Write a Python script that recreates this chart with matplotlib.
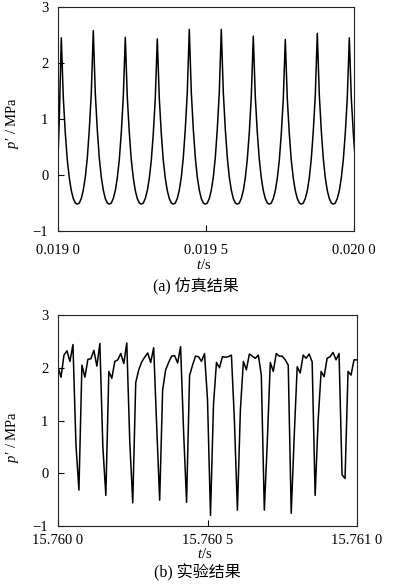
import numpy as np
import matplotlib
matplotlib.use("Agg")
import matplotlib.pyplot as plt

plt.rcParams['font.family'] = ['Liberation Serif', 'Noto Sans CJK SC']
plt.rcParams['mathtext.fontset'] = 'custom'
plt.rcParams['mathtext.rm'] = 'Liberation Serif'
plt.rcParams['mathtext.it'] = 'Liberation Serif:italic'
plt.rcParams['axes.unicode_minus'] = True

# ---------------- data: (a) simulation ----------------
T0_SIM = 0.0189976      # time of first sample (s)
DT_SIM = 6.757e-6       # sample step (s)
p_sim = [
    -0.10, 1.00, 2.45,
    1.38, 0.75, 0.27, -0.05, -0.28, -0.42, -0.50, -0.52,
    -0.50, -0.42, -0.27, -0.04, 0.30, 0.81, 1.46, 2.58,
    1.46, 0.81, 0.30, -0.04, -0.27, -0.42, -0.50, -0.52,
    -0.50, -0.42, -0.28, -0.05, 0.27, 0.76, 1.39, 2.46,
    1.39, 0.76, 0.27, -0.05, -0.28, -0.42, -0.50, -0.52,
    -0.50, -0.42, -0.28, -0.06, 0.26, 0.74, 1.37, 2.43,
    1.37, 0.74, 0.26, -0.06, -0.28, -0.42, -0.50, -0.52,
    -0.50, -0.42, -0.27, -0.04, 0.31, 0.82, 1.48, 2.60,
    1.48, 0.82, 0.31, -0.04, -0.27, -0.42, -0.50, -0.52,
    -0.50, -0.42, -0.27, -0.04, 0.31, 0.82, 1.48, 2.60,
    1.48, 0.82, 0.31, -0.04, -0.27, -0.42, -0.50, -0.52,
    -0.50, -0.42, -0.28, -0.05, 0.28, 0.76, 1.40, 2.48,
    1.40, 0.76, 0.28, -0.05, -0.28, -0.42, -0.50, -0.52,
    -0.50, -0.42, -0.28, -0.06, 0.26, 0.74, 1.36, 2.42,
    1.36, 0.74, 0.26, -0.06, -0.28, -0.42, -0.50, -0.52,
    -0.50, -0.42, -0.28, -0.05, 0.29, 0.79, 1.43, 2.53,
    1.43, 0.79, 0.29, -0.05, -0.28, -0.42, -0.50, -0.52,
    -0.50, -0.42, -0.28, -0.05, 0.27, 0.75, 1.38, 2.45,
    1.38, 0.75, 0.27,
]
sim_xticks = [0.0190, 0.0195, 0.0200]
sim_xticklabels = ['0.019 0', '0.019 5', '0.020 0']

# ---------------- data: (b) experiment ----------------
T0_EXP = 15.7600
DT_EXP = 1.0e-5
p_exp = [
    2.02, 1.82, 2.24, 2.32, 2.12, 2.44, 0.55, -0.32,
    2.05, 1.82, 2.16, 2.17, 2.33, 2.03, 2.46, 0.50, -0.42,
    1.93, 1.80, 2.12, 2.15, 2.27, 2.08, 2.47, 0.60, -0.56,
    1.72, 1.96, 2.11, 2.20, 2.28, 2.10, 2.38, 0.90, -0.51,
    1.58, 1.96, 2.10, 2.22, 2.23, 2.09, 2.40, 0.80, -0.55,
    1.85, 2.05, 2.22, 2.21, 2.12, 2.27, 1.40, -0.80,
    1.30, 2.10, 2.00, 2.21, 2.20, 2.21, 2.24, 1.00, -0.70,
    1.20, 2.12, 1.96, 2.26, 2.22, 2.18, 2.24, 1.86, -0.70,
    0.60, 2.10, 1.93, 2.27, 2.22, 2.22, 2.15, 2.05, -0.76,
    0.70, 2.02, 1.90, 2.24, 2.18, 2.26, 2.11, -0.42,
    1.00, 1.93, 1.83, 2.18, 2.21, 2.29, 2.15, 2.27, -0.03, -0.10,
    1.93, 1.86, 2.15, 2.15,
]
exp_xticks = [15.7600, 15.7605, 15.7610]
exp_xticklabels = ['15.760 0', '15.760 5', '15.761 0']

yticks = [-1, 0, 1, 2, 3]
yticklabels = ['\u22121', '0', '1', '2', '3']

t_sim = T0_SIM + DT_SIM * np.arange(len(p_sim))
t_exp = T0_EXP + DT_EXP * np.arange(len(p_exp))

W, H = 393, 584
fig = plt.figure(figsize=(W / 100, H / 100), dpi=100)

def make_ax(l, r, t, b):
    return fig.add_axes([l / W, 1 - b / H, (r - l) / W, (b - t) / H])

ax1 = make_ax(58, 354, 7, 231)
ax2 = make_ax(58, 357, 315, 526)

FS = 10.5
for ax, t, p, xt, xtl, ylab_y, xpad in [
    (ax1, t_sim, p_sim, sim_xticks, sim_xticklabels, 0.482, 9),
    (ax2, t_exp, p_exp, exp_xticks, exp_xticklabels, 0.42, 5.5),
]:
    ax.plot(t, p, color='black', lw=1.1)
    ax.set_xlim(xt[0], xt[-1])
    ax.set_ylim(-1, 3)
    ax.set_xticks(xt)
    ax.set_xticklabels(xtl)
    ax.set_yticks(yticks)
    ax.set_yticklabels(yticklabels)
    ax.tick_params(direction='in', length=4, width=0.8, labelsize=FS,
                   top=False, right=False)
    ax.tick_params(axis='x', pad=xpad)
    ax.tick_params(axis='y', pad=7)
    for s in ax.spines.values():
        s.set_linewidth(0.8)
        s.set_color('#222222')
    ax.set_ylabel("$p$\u2032 / MPa", fontsize=FS)
    ax.yaxis.set_label_coords(-(58 - 13) / (ax.get_position().width * W), ylab_y)
    ax.yaxis.label.set_va('center')
    ax.set_xlabel('$t$/s', fontsize=FS)
    ax.xaxis.label.set_va('center')

ax1.xaxis.set_label_coords((204 - 58) / 296, -(265 - 231) / 224)
ax2.xaxis.set_label_coords((205 - 58) / 299, -(554 - 526) / 211)

fig.text(196 / W, 1 - 287 / H, '(a) 仿真结果', ha='center', va='center', fontsize=11.5)
fig.text(197 / W, 1 - 573 / H, '(b) 实验结果', ha='center', va='center', fontsize=11.5)

fig.savefig('out.png', dpi=100, facecolor='white')
